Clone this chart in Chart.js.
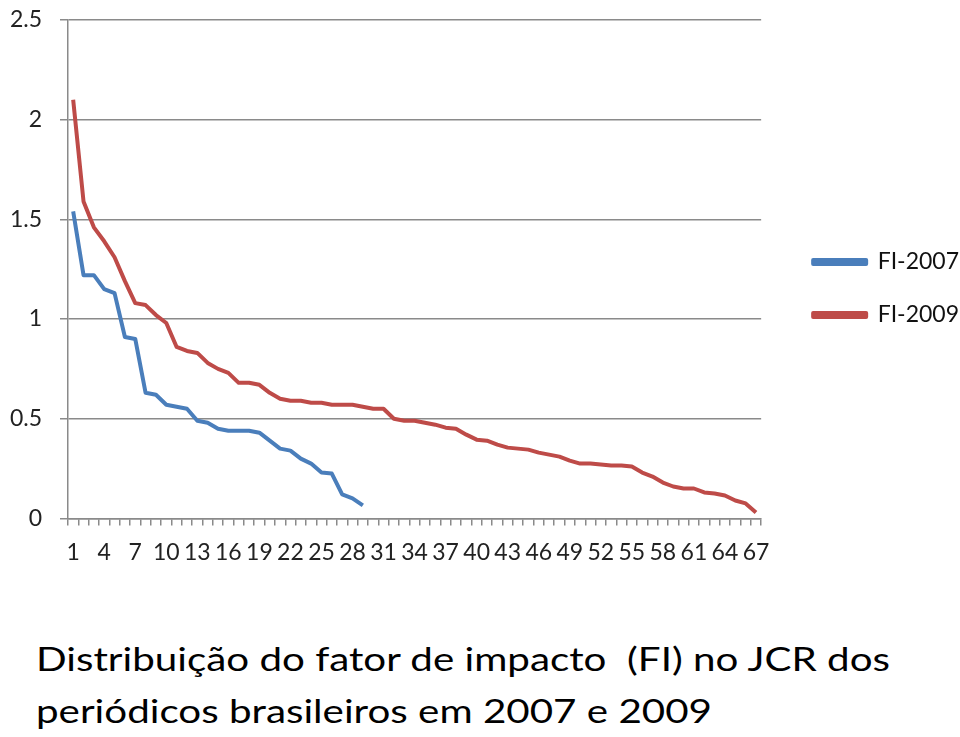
<!DOCTYPE html>
<html>
<head>
<meta charset="utf-8">
<script src="https://cdn.jsdelivr.net/npm/chart.js@4.4.1/dist/chart.umd.min.js"></script>
<style>
    html, body { margin: 0; padding: 0; background: #fff; }
    #wrap { position: relative; width: 960px; height: 737px; overflow: hidden; }
    #chartBox { position: absolute; left: 0; top: 0; width: 960px; height: 590px; }
    .title {
        position: absolute; left: 36px; font-family: Lato, 'Open Sans', sans-serif;
        font-size: 32px; line-height: 32px; color: #000; white-space: pre; transform-origin: 0 0;
    }
</style>
</head>
<body>
<div id="wrap">
    <div id="chartBox"><canvas id="fiChart"></canvas></div>
    <div class="title" id="t1" style="top:643px">Distribuição do fator de impacto  (FI) no JCR dos</div>
    <div class="title" id="t2" style="top:695px">periódicos brasileiros em 2007 e 2009</div>
</div>
<script>
// Journal ranks (x axis categories)
const ranks = [1, 2, 3, 4, 5, 6, 7, 8, 9, 10, 11, 12, 13, 14, 15, 16, 17, 18, 19, 20,
    21, 22, 23, 24, 25, 26, 27, 28, 29, 30, 31, 32, 33, 34, 35, 36, 37, 38, 39, 40,
    41, 42, 43, 44, 45, 46, 47, 48, 49, 50, 51, 52, 53, 54, 55, 56, 57, 58, 59, 60,
    61, 62, 63, 64, 65, 66, 67];

// Impact factor, 2007
const fi2007 = [1.54, 1.22, 1.22, 1.15, 1.13, 0.91, 0.90, 0.63, 0.62, 0.57,
    0.56, 0.55, 0.49, 0.48, 0.45, 0.44, 0.44, 0.44, 0.43, 0.39,
    0.35, 0.34, 0.30, 0.275, 0.23, 0.225, 0.12, 0.10, 0.065];

// Impact factor, 2009
const fi2009 = [2.10, 1.59, 1.46, 1.39, 1.31, 1.19, 1.08, 1.07, 1.02, 0.98,
    0.86, 0.84, 0.83, 0.78, 0.75, 0.73, 0.68, 0.68, 0.67, 0.63,
    0.60, 0.59, 0.59, 0.58, 0.58, 0.57, 0.57, 0.57, 0.56, 0.55,
    0.55, 0.50, 0.49, 0.49, 0.48, 0.47, 0.455, 0.45, 0.42, 0.395,
    0.39, 0.37, 0.355, 0.35, 0.345, 0.33, 0.32, 0.31, 0.29, 0.275,
    0.275, 0.27, 0.265, 0.265, 0.26, 0.23, 0.21, 0.18, 0.16, 0.15,
    0.15, 0.13, 0.125, 0.115, 0.09, 0.075, 0.03];

const seriesNames = ['FI-2007', 'FI-2009'];

const tickFont = { family: "Lato, 'Open Sans', sans-serif", size: 23 };
const gridGray = '#8a8a8a';

// Squeeze title lines to the reference width
function fitTitle() {
    const widths = { t1: 854, t2: 676 };
    Object.keys(widths).forEach(id => {
        const el = document.getElementById(id);
        const w = el.getBoundingClientRect().width;
        el.style.transform = 'scaleX(' + (widths[id] / w) + ')';
    });
}

// Nudge the legend a bit away from the plot, like the original
const legendNudge = {
    id: 'legendNudge',
    afterLayout(chart) {
        const lg = chart.legend;
        if (!lg) return;
        lg.left += 22;
        lg.right += 22;
        lg.top -= 1;
        lg.bottom -= 1;
    }
};

function initChart() {
    const ctx = document.getElementById('fiChart').getContext('2d');
    new Chart(ctx, {
        type: 'line',
        data: {
            labels: ranks,
            datasets: [{
                label: seriesNames[0],
                data: fi2007,
                borderColor: '#4a7ebb',
                backgroundColor: '#4a7ebb',
                borderWidth: 4,
                pointRadius: 0,
                borderJoinStyle: 'round',
                tension: 0
            }, {
                label: seriesNames[1],
                data: fi2009,
                borderColor: '#be4b48',
                backgroundColor: '#be4b48',
                borderWidth: 4,
                pointRadius: 0,
                borderJoinStyle: 'round',
                tension: 0
            }]
        },
        plugins: [legendNudge],
        options: {
            responsive: true,
            maintainAspectRatio: false,
            animation: false,
            layout: {
                padding: { left: 7, top: 0, right: 13, bottom: 11 }
            },
            plugins: {
                tooltip: { enabled: false },
                legend: {
                    position: 'right',
                    labels: {
                        boxWidth: 53,
                        boxHeight: 4,
                        padding: 30,
                        color: '#111',
                        font: { family: tickFont.family, size: 23 }
                    }
                }
            },
            scales: {
                x: {
                    offset: true,
                    grid: {
                        offset: true,
                        drawOnChartArea: false,
                        tickLength: 7,
                        color: gridGray,
                        lineWidth: 1.5
                    },
                    border: { color: gridGray, width: 1.5 },
                    ticks: {
                        autoSkip: false,
                        maxRotation: 0,
                        minRotation: 0,
                        padding: 13,
                        color: '#222',
                        font: tickFont,
                        callback: function (val, idx) {
                            return idx % 3 === 0 ? this.getLabelForValue(val) : '';
                        }
                    }
                },
                y: {
                    min: 0,
                    max: 2.5,
                    afterFit: scale => {
                        scale.width = 61;
                        scale.paddingTop = 20;
                    },
                    ticks: {
                        stepSize: 0.5,
                        padding: 18,
                        color: '#222',
                        font: tickFont,
                        callback: v => String(v)
                    },
                    grid: {
                        color: gridGray,
                        lineWidth: 1.5,
                        tickLength: 8
                    },
                    border: { color: gridGray, width: 1.5 }
                }
            }
        }
    });
}

document.addEventListener('DOMContentLoaded', () => {
    fitTitle();
    initChart();
});
</script>
</body>
</html>
